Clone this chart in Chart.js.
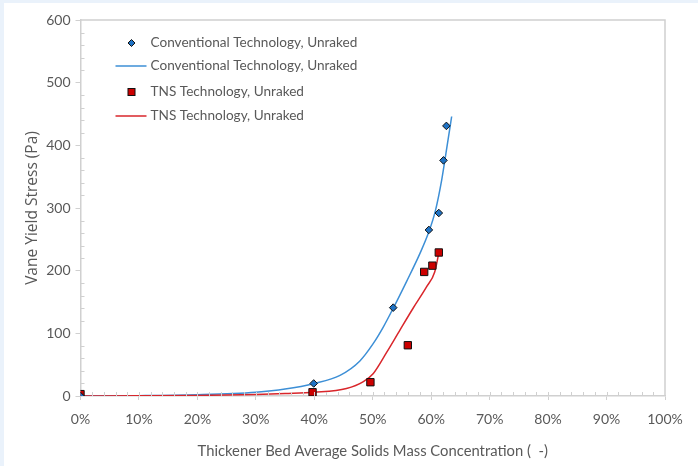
<!DOCTYPE html>
<html>
<head>
<meta charset="utf-8">
<script src="https://cdn.jsdelivr.net/npm/chart.js@4.4.0/dist/chart.umd.min.js"></script>
<style>
    body { margin: 0; background: #eaf2fb; }
    #wrap { position: absolute; left: 4px; top: 3px; width: 694px; height: 463px; background: #fff; }
</style>
</head>
<body>
<div id="wrap"><canvas id="chart_1" width="694" height="463"></canvas></div>
<script>
// measured points (x in %, y in Pa)
const conv_x = [0, 39.9, 53.5, 59.6, 61.3, 62.1, 62.6];
const conv_y = [0, 20, 141, 265, 292, 376, 431];
const tns_x = [0, 39.7, 49.6, 56.0, 58.8, 60.2, 61.3];
const tns_y = [3, 6, 22, 81, 198, 208, 229];

// fitted curves
const conv_fit_x = [0, 10, 20, 30, 35, 40, 44.4, 47.8, 50.1, 51.8, 53.5, 55.8, 58.1, 59.6, 60.7, 61.8, 62.7, 63.5];
const conv_fit_y = [0, 0.5, 2, 6, 11, 20, 33, 56, 84, 110, 140, 183, 228, 262, 295, 345, 398, 446];
const tns_fit_x = [0, 10, 20, 30, 35, 40, 45.5, 48.4, 50.1, 52.4, 54.7, 56.9, 59.2, 60.6, 61.3];
const tns_fit_y = [0, 0.2, 0.8, 2.5, 4, 6, 12, 23, 36, 70, 106, 140, 174, 198, 228];

const x_ticks = [0, 10, 20, 30, 40, 50, 60, 70, 80, 90, 100];
const y_ticks = [0, 100, 200, 300, 400, 500, 600];

const labels = ["Conventional Technology, Unraked", "Conventional Technology, Unraked", "TNS Technology, Unraked", "TNS Technology, Unraked"];

const blue_line = '#3d8fd6';
const red_line = '#d9262b';
const axis_col = '#d0d0d0';
const text_col = '#595959';

function pts(xs, ys) {
    return xs.map((x, i) => ({x: x, y: ys[i]}));
}

// minor ticks + top/right frame + legend
const frame_plugin = {
    id: 'frame',
    afterDatasetsDraw(chart) {
        const ctx = chart.ctx;
        const a = chart.chartArea;
        const xs = chart.scales.x, ys = chart.scales.y;
        ctx.save();
        ctx.strokeStyle = axis_col;
        ctx.lineWidth = 1.5;
        ctx.beginPath();
        ctx.moveTo(a.left, a.top); ctx.lineTo(a.right, a.top); ctx.lineTo(a.right, a.bottom);
        ctx.stroke();
        ctx.lineWidth = 1;
        ctx.beginPath();
        for (let v = 20; v < 600; v += 20) {
            if (v % 100 === 0) continue;
            let py = Math.round(ys.getPixelForValue(v)) + 0.5;
            ctx.moveTo(a.left, py); ctx.lineTo(a.left + 4, py);
        }
        for (let v = 2; v < 100; v += 2) {
            let px = Math.round(xs.getPixelForValue(v)) + 0.5;
            ctx.moveTo(px, a.bottom); ctx.lineTo(px, a.bottom - 4);
        }
        ctx.stroke();
        ctx.restore();
    },
    afterDraw(chart) {
        const ctx = chart.ctx;
        const a = chart.chartArea;
        const rows = [23, 46, 72, 96];
        const mx = a.left + 51, tx = a.left + 70;
        ctx.save();
        ctx.font = '13.6px Lato';
        ctx.textBaseline = 'middle';
        rows.forEach((ry, i) => {
            let y = a.top + ry;
            ctx.fillStyle = text_col;
            ctx.fillText(labels[i], tx, y);
            if (i === 0) {
                ctx.beginPath();
                ctx.moveTo(mx, y - 3.5); ctx.lineTo(mx + 3.5, y); ctx.lineTo(mx, y + 3.5); ctx.lineTo(mx - 3.5, y); ctx.closePath();
                ctx.fillStyle = '#1f72c4'; ctx.fill();
                ctx.strokeStyle = '#111'; ctx.lineWidth = 1; ctx.stroke();
            } else if (i === 2) {
                ctx.fillStyle = '#cc0000';
                ctx.fillRect(mx - 3.5, y - 3.5, 7, 7);
                ctx.strokeStyle = '#111'; ctx.lineWidth = 1;
                ctx.strokeRect(mx - 3.5, y - 3.5, 7, 7);
            } else {
                ctx.strokeStyle = i === 1 ? blue_line : red_line;
                ctx.lineWidth = 1.5;
                ctx.beginPath();
                ctx.moveTo(a.left + 35, y); ctx.lineTo(a.left + 66, y);
                ctx.stroke();
            }
        });
        ctx.restore();
    }
};

const chart_1 = document.getElementById("chart_1").getContext('2d');

new Chart(chart_1, {
    type: 'scatter',
    data: {
        datasets: [
            {
                label: labels[0],
                data: pts(conv_x, conv_y),
                pointStyle: 'rectRot',
                pointRadius: 3.8,
                backgroundColor: '#1f72c4',
                borderColor: '#111',
                borderWidth: 1,
                order: 0,
            },
            {
                label: labels[1],
                data: pts(conv_fit_x, conv_fit_y),
                showLine: true,
                pointRadius: 0,
                borderColor: blue_line,
                borderWidth: 1.5,
                cubicInterpolationMode: 'monotone',
                order: 2,
            },
            {
                label: labels[2],
                data: pts(tns_x, tns_y),
                pointStyle: 'rect',
                pointRadius: 5.2,
                backgroundColor: '#cc0000',
                borderColor: '#111',
                borderWidth: 1,
                order: 0,
            },
            {
                label: labels[3],
                data: pts(tns_fit_x, tns_fit_y),
                showLine: true,
                pointRadius: 0,
                borderColor: red_line,
                borderWidth: 1.5,
                cubicInterpolationMode: 'monotone',
                order: 1,
            }
        ]
    },
    options: {
        responsive: false,
        animation: false,
        layout: { padding: { left: 0, top: 17, right: 33, bottom: 0 } },
        plugins: {
            legend: false,
            tooltip: { enabled: false },
        },
        scales: {
            x: {
                type: 'linear',
                min: 0,
                max: 100,
                afterFit: (s) => { s.height = 70; },
                afterBuildTicks: (s) => { s.ticks = x_ticks.map(v => ({value: v})); },
                border: { color: axis_col, width: 1.5 },
                grid: { drawOnChartArea: false, drawTicks: true, tickLength: 4, color: axis_col },
                ticks: {
                    padding: 11,
                    color: text_col,
                    font: { family: 'Lato', size: 14 },
                    callback: (v) => v + '%',
                },
                title: {
                    display: true,
                    text: 'Thickener Bed Average Solids Mass Concentration (  -)',
                    color: text_col,
                    font: { family: 'Lato', size: 14.8 },
                    padding: { top: 0, bottom: 6 },
                },
            },
            y: {
                min: 0,
                max: 600,
                afterFit: (s) => { s.width = 76.5; },
                afterBuildTicks: (s) => { s.ticks = y_ticks.map(v => ({value: v})); },
                border: { color: axis_col, width: 1.5 },
                grid: { drawOnChartArea: false, drawTicks: true, tickLength: 5, color: axis_col },
                ticks: {
                    padding: 5,
                    color: text_col,
                    font: { family: 'Lato', size: 14 },
                },
                title: {
                    display: true,
                    text: 'Vane Yield Stress (Pa)',
                    color: text_col,
                    font: { family: 'Open Sans', size: 15.5 },
                    padding: { top: 19, bottom: 0 },
                },
            }
        }
    },
    plugins: [frame_plugin]
});
</script>
</body>
</html>
